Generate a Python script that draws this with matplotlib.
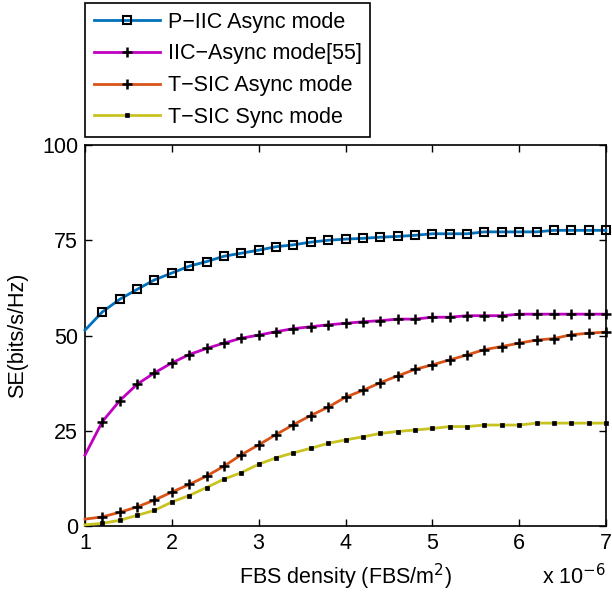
import numpy as np
import matplotlib
matplotlib.use('Agg')
import matplotlib.pyplot as plt

plt.rcParams['font.family'] = ['Liberation Sans', 'DejaVu Sans']

# FBS density (x 10^-6 FBS/m^2)
density = np.linspace(1.0, 7.0, 31)

p_iic_async = [51.4, 56.2, 59.5, 62.1, 64.6, 66.4, 68.2, 69.4, 70.8, 71.6, 72.4,
               73.3, 73.8, 74.5, 75.0, 75.3, 75.5, 75.8, 76.0, 76.3, 76.7,
               76.7, 76.7, 77.2, 77.2, 77.2, 77.2, 77.6, 77.6, 77.6, 77.6]
iic_async = [18.6, 27.4, 32.9, 37.2, 40.2, 42.8, 45.0, 46.6, 48.0, 49.3, 50.1,
             51.0, 51.8, 52.3, 52.8, 53.2, 53.6, 53.9, 54.3, 54.3, 54.8,
             54.8, 55.2, 55.2, 55.2, 55.6, 55.6, 55.6, 55.6, 55.6, 55.6]
tsic_async = [1.8, 2.4, 3.6, 5.0, 6.8, 8.9, 10.9, 13.1, 15.7, 18.7, 21.3,
              24.0, 26.6, 29.0, 31.2, 33.8, 35.6, 37.6, 39.4, 41.1, 42.3,
              43.6, 44.9, 46.3, 47.1, 48.0, 48.8, 49.2, 50.2, 50.6, 50.9]
tsic_sync = [0.3, 0.7, 1.5, 2.8, 4.1, 6.3, 8.0, 10.1, 12.3, 14.0, 16.2,
             17.9, 19.2, 20.4, 21.7, 22.6, 23.4, 24.3, 24.8, 25.2, 25.6,
             26.1, 26.1, 26.5, 26.5, 26.5, 27.0, 27.0, 27.0, 27.0, 27.0]

labels = ['P\u2212IIC Async mode', 'IIC\u2212Async mode[55]',
          'T\u2212SIC Async mode', 'T\u2212SIC Sync mode']

fs = 15.5

fig = plt.figure(figsize=(6.12, 5.95), dpi=100)
ax = fig.add_axes([85 / 612, 69 / 595, 521 / 612, 381 / 595])

marks = slice(1, None)
ax.plot(density, p_iic_async, color='#0072bd', lw=2, marker='s', ms=5.5,
        mfc='none', mec='black', mew=1.5, markevery=marks, clip_on=False,
        label=labels[0], zorder=3)
ax.plot(density, iic_async, color='#c000c0', lw=2, marker='+', ms=6.5,
        mec='black', mew=1.8, markevery=marks, clip_on=False,
        label=labels[1], zorder=3)
ax.plot(density, tsic_async, color='#d95319', lw=2, marker='+', ms=6.5,
        mec='black', mew=1.8, markevery=marks, clip_on=False,
        label=labels[2], zorder=3)
ax.plot(density, tsic_sync, color='#c8c320', lw=2, marker='s', ms=2.6,
        mfc='black', mec='black', mew=0.5, markevery=marks, clip_on=False,
        label=labels[3], zorder=3)

ax.set_xlim(1, 7)
ax.set_ylim(0, 100)
ax.set_xticks([1, 2, 3, 4, 5, 6, 7])
ax.set_yticks([0, 25, 50, 75, 100])
ax.tick_params(direction='in', top=True, right=True, labelsize=fs,
               length=5, width=1, pad=5)
for s in ax.spines.values():
    s.set_linewidth(1.2)

ax.set_xlabel('FBS density (FBS/m$^2$)', fontsize=fs, labelpad=6)
ax.set_ylabel('SE(bits/s/Hz)', fontsize=fs, labelpad=10)
fig.text(606 / 612, 6 / 595, 'x 10$^{-6}$', ha='right', va='bottom',
         fontsize=fs)

leg = fig.legend(loc='upper left', bbox_to_anchor=(85 / 612, 1 - 3 / 595),
                 bbox_transform=fig.transFigure, fontsize=fs,
                 handlelength=3.1, handletextpad=0.35, labelspacing=0.5,
                 borderpad=0.4, borderaxespad=0, fancybox=False,
                 framealpha=1, edgecolor='black')
leg.get_frame().set_linewidth(1.2)

fig.savefig('out.png', dpi=100)
